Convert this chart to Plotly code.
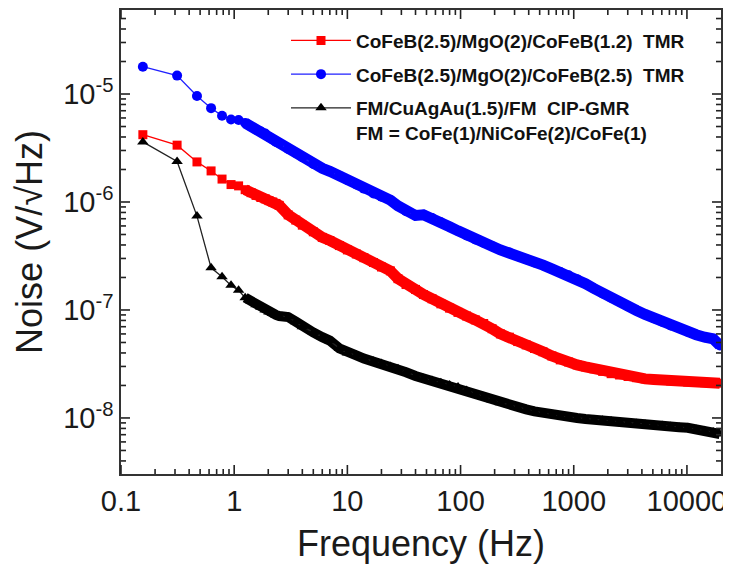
import math
import plotly.graph_objects as go

# ---------------- data ----------------
freq = [0.156, 0.313, 0.469, 0.625, 0.781, 0.938, 1.094, 1.25, 1.41, 1.56, 1.72, 1.88,
        2.03, 2.19, 2.34, 2.5, 3, 3.5, 4, 5, 6, 7, 8.5, 10, 12, 14, 17, 20, 24, 28, 33,
        40, 47, 56, 67, 80, 95, 113, 135, 160, 190, 225, 270, 320, 380, 450, 535, 640,
        760, 900, 1070, 1270, 1510, 1800, 2140, 2540, 3020, 3590, 4270, 5080, 6040,
        7180, 8540, 10150, 12070, 14350, 17060, 19500]

tmr_12 = [4.2e-6, 3.36e-6, 2.35e-6, 1.94e-6, 1.63e-6, 1.45e-6, 1.41e-6, 1.3e-6, 1.22e-6,
          1.15e-6, 1.1e-6, 1.07e-6, 1.03e-6, 1.0e-6, 9.7e-7, 9.3e-7, 7.6e-7, 6.8e-7,
          6.1e-7, 5.3e-7, 4.7e-7, 4.4e-7, 3.95e-7, 3.6e-7, 3.3e-7, 3.05e-7, 2.75e-7,
          2.5e-7, 2.3e-7, 1.95e-7, 1.72e-7, 1.55e-7, 1.39e-7, 1.27e-7, 1.14e-7, 1.04e-7,
          9.5e-8, 8.8e-8, 8.1e-8, 7.5e-8, 6.7e-8, 6.0e-8, 5.6e-8, 5.1e-8, 4.75e-8, 4.4e-8,
          4.1e-8, 3.75e-8, 3.45e-8, 3.3e-8, 3.1e-8, 2.97e-8, 2.85e-8, 2.7e-8, 2.57e-8,
          2.5e-8, 2.42e-8, 2.36e-8, 2.3e-8, 2.27e-8, 2.24e-8, 2.2e-8, 2.18e-8, 2.15e-8,
          2.13e-8, 2.12e-8, 2.1e-8, 2.1e-8]

tmr_25 = [1.79e-5, 1.48e-5, 9.6e-6, 7.4e-6, 6.3e-6, 5.8e-6, 5.75e-6, 5.4e-6, 5.0e-6,
          4.7e-6, 4.5e-6, 4.3e-6, 4.0e-6, 3.8e-6, 3.6e-6, 3.5e-6, 3.1e-6, 2.85e-6, 2.6e-6,
          2.25e-6, 2.05e-6, 1.92e-6, 1.75e-6, 1.6e-6, 1.45e-6, 1.33e-6, 1.2e-6, 1.12e-6,
          1.04e-6, 9.2e-7, 8.2e-7, 7.5e-7, 7.6e-7, 7.1e-7, 6.5e-7, 5.9e-7, 5.4e-7, 4.9e-7,
          4.5e-7, 4.2e-7, 3.9e-7, 3.6e-7, 3.4e-7, 3.15e-7, 2.95e-7, 2.75e-7, 2.6e-7,
          2.4e-7, 2.25e-7, 2.1e-7, 1.93e-7, 1.75e-7, 1.58e-7, 1.42e-7, 1.3e-7, 1.19e-7,
          1.08e-7, 9.9e-8, 9.1e-8, 8.4e-8, 7.8e-8, 7.2e-8, 6.8e-8, 6.3e-8, 5.9e-8, 5.6e-8,
          5.4e-8, 4.7e-8]

gmr = [3.6e-6, 2.37e-6, 7.4e-7, 2.46e-7, 2.03e-7, 1.69e-7, 1.52e-7, 1.3e-7, 1.2e-7,
       1.12e-7, 1.06e-7, 1.0e-7, 9.6e-8, 9.3e-8, 9.0e-8, 8.8e-8, 8.6e-8, 7.8e-8, 7.0e-8,
       6.2e-8, 5.6e-8, 5.2e-8, 4.4e-8, 4.0e-8, 3.8e-8, 3.55e-8, 3.35e-8, 3.2e-8, 3.0e-8,
       2.85e-8, 2.65e-8, 2.45e-8, 2.32e-8, 2.22e-8, 2.12e-8, 2.02e-8, 1.93e-8, 1.8e-8,
       1.67e-8, 1.57e-8, 1.47e-8, 1.38e-8, 1.31e-8, 1.25e-8, 1.2e-8, 1.15e-8, 1.11e-8,
       1.07e-8, 1.03e-8, 1.02e-8, 1.0e-8, 9.8e-9, 9.6e-9, 9.5e-9, 9.35e-9, 9.2e-9, 9.0e-9,
       8.9e-9, 8.75e-9, 8.6e-9, 8.5e-9, 8.35e-9, 8.2e-9, 8.1e-9, 7.8e-9, 7.6e-9, 7.4e-9,
       7.1e-9]

names = ["CoFeB(2.5)/MgO(2)/CoFeB(1.2)  TMR",
         "CoFeB(2.5)/MgO(2)/CoFeB(2.5)  TMR",
         "FM/CuAgAu(1.5)/FM  CIP-GMR<br>FM = CoFe(1)/NiCoFe(2)/CoFe(1)"]

x_tickvals = [0.1, 1, 10, 100, 1000, 10000]
x_ticktext = ["0.1", "1", "10", "100", "1000", "10000"]
y_tickvals = [1e-8, 1e-7, 1e-6, 1e-5]
y_ticktext = ["10<sup>-8</sup>", "10<sup>-7</sup>", "10<sup>-6</sup>", "10<sup>-5</sup>"]

X_RANGE = [-1, 4.301]
Y_RANGE = [-8.519, -4.222]

x_minor = [k * 10.0 ** d for d in range(-1, 5) for k in range(2, 10)
           if math.log10(k * 10.0 ** d) < X_RANGE[1]]
y_minor = [k * 10.0 ** d for d in range(-9, -4) for k in range(2, 10)
           if Y_RANGE[0] < math.log10(k * 10.0 ** d) < Y_RANGE[1]]

# plot-area size in px (figure 723x559, margins l113 r10 t2 b93)
PLOT_W = 600
PLOT_H = 464

# ---------------- figure ----------------
series = [
    (tmr_12, "#ff0000", "#ff0000", "square", 9, 11),
    (tmr_25, "#0000ff", "#2020ff", "circle", 10, 11),
    (gmr, "#000000", "#222222", "triangle-up", 10, 10),
]
dense_start = 7

fig = go.Figure()
for i, (vals, col, lcol, sym, msz, bw) in enumerate(series):
    # dense band of overlapping points
    fig.add_trace(go.Scatter(
        x=freq[dense_start:], y=vals[dense_start:], mode="lines",
        line=dict(color=col, width=bw), showlegend=False, hoverinfo="skip",
        legendgroup=f"g{i}"))
    fig.add_trace(go.Scatter(
        x=freq, y=vals, mode="lines+markers", name=names[i],
        line=dict(color=lcol, width=1.3),
        marker=dict(symbol=sym, size=msz, color=col, line=dict(width=0)),
        legendgroup=f"g{i}"))

# inside tick marks (major and minor) on all four sides of the frame
def xdom(v):
    return (math.log10(v) - X_RANGE[0]) / (X_RANGE[1] - X_RANGE[0])

def ydom(v):
    return (math.log10(v) - Y_RANGE[0]) / (Y_RANGE[1] - Y_RANGE[0])

tick_line = dict(color="#222222", width=1.6)
shapes = []
for vals_, ln in ((x_tickvals, 9), (x_minor, 5)):
    for v in vals_:
        p = xdom(v)
        shapes.append(dict(type="line", xref="x domain", yref="y domain", x0=p, x1=p,
                           y0=0, y1=ln / PLOT_H, line=tick_line, layer="above"))
        shapes.append(dict(type="line", xref="x domain", yref="y domain", x0=p, x1=p,
                           y0=1 - ln / PLOT_H, y1=1, line=tick_line, layer="above"))
for vals_, ln in ((y_tickvals, 9), (y_minor, 5)):
    for v in vals_:
        p = ydom(v)
        shapes.append(dict(type="line", xref="x domain", yref="y domain", y0=p, y1=p,
                           x0=0, x1=ln / PLOT_W, line=tick_line, layer="above"))
        shapes.append(dict(type="line", xref="x domain", yref="y domain", y0=p, y1=p,
                           x0=1 - ln / PLOT_W, x1=1, line=tick_line, layer="above"))

axis_common = dict(
    type="log", showline=True, linecolor="#333333", linewidth=1.5, mirror=True,
    ticks="", showgrid=False, zeroline=False, automargin=False,
    ticklabeloverflow="allow",
    tickfont=dict(family="Arial", size=29, color="#1a1a1a"),
)

fig.update_layout(
    xaxis=dict(**axis_common, range=X_RANGE, tickmode="array",
               tickvals=x_tickvals, ticktext=x_ticktext,
               title=dict(text="Frequency (Hz)",
                          font=dict(family="Arial", size=36, color="#1a1a1a"), standoff=15)),
    yaxis=dict(**axis_common, range=Y_RANGE, tickmode="array",
               tickvals=y_tickvals, ticktext=y_ticktext,
               title=dict(text="Noise (V/√Hz)",
                          font=dict(family="Arial", size=36, color="#1a1a1a"), standoff=10)),
    shapes=shapes,
)

# the page body has an 8 px margin; shift the figure so the plot area matches
fig.update_layout(
    width=723, height=559,
    margin=dict(l=113, r=10, t=2, b=93),
    plot_bgcolor="white", paper_bgcolor="white",
    showlegend=True,
    legend=dict(x=0.275, y=0.975, xanchor="left", yanchor="top",
                bgcolor="rgba(0,0,0,0)", borderwidth=0,
                font=dict(family="Arial", size=19, color="#111111", weight="bold"),
                itemwidth=60, tracegroupgap=6, valign="top", traceorder="grouped"),
)

fig.write_html("out.html")
